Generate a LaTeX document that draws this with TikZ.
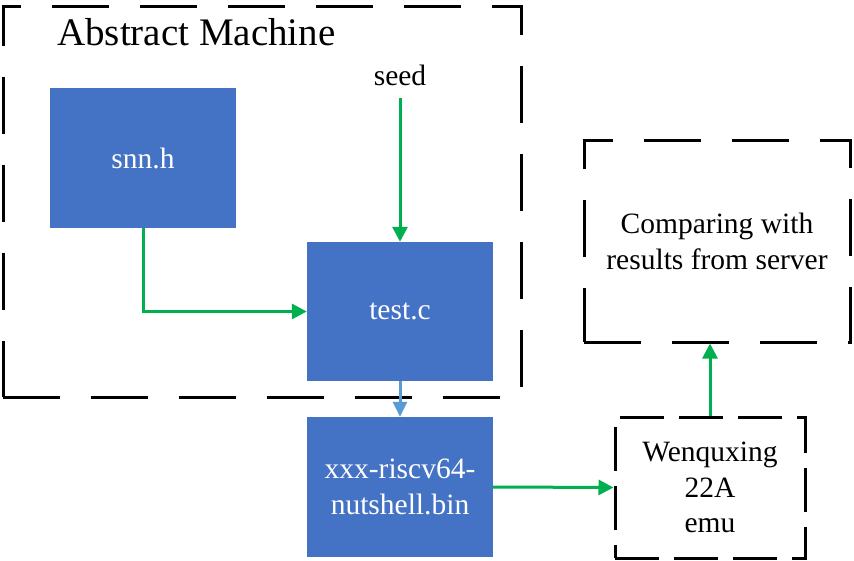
\documentclass[tikz,border=0pt]{standalone}
\usepackage{fontspec}
\setmainfont{Liberation Serif}
\newfontfamily\timesfont{Liberation Serif}
\usetikzlibrary{arrows.meta}
\definecolor{boxblue}{HTML}{4472C4}
\definecolor{flowgreen}{HTML}{00B050}
\definecolor{lightblue}{HTML}{5B9BD5}
\newcommand{\boxfont}{\timesfont\fontsize{29.5}{35.5}\selectfont}

\begin{document}
\begin{tikzpicture}[x=1pt, y=-1pt,
		file/.style={fill=boxblue, text=white, minimum width=186pt, minimum height=140pt, align=center, font=\boxfont},
		frame/.style={draw, line width=3pt, dash pattern=on 57pt off 31pt, minimum width=#1},
		frame/.default=266pt,
		flow/.style={draw=flowgreen, line width=3pt, -{Triangle[length=15pt, width=15pt]}},
		txt/.style={align=center, font=\boxfont}]
	\useasboundingbox (0, 0) rectangle (854, 561);

	\draw (262, 202) 	node[frame=518pt, minimum height=390pt] 	(am) 		{};
	\draw (57, 46) 		node[anchor=base west, inner sep=0pt, font=\timesfont\fontsize{39}{45}\selectfont] 	(am_title) 	{Abstract Machine};
	\draw (143, 158) 	node[file] 	(snn) 		{snn.h};
	\draw (400, 311.5) 	node[file, minimum height=139pt] 	(test) 		{test.c};
	\draw (400, 86) 	node[txt, anchor=base, inner sep=6pt] 	(seed) 		{seed};
	\draw (400, 487) 	node[file] 	(bin) 		{xxx-riscv64-\\nutshell.bin};
	\draw (710, 487.5) 	node[txt, draw, line width=3pt, dash pattern=on 44pt off 15pt, minimum width=190pt, minimum height=141pt] 	(emu) 	{Wenquxing\\22A\\emu};
	\draw (717, 241.5) 	node[txt, frame, minimum height=201pt] 	(comp) 	{Comparing with\\results from server};

	\draw[flow] (snn.south) |- (test.west);
	\draw[flow, shorten <=6pt] (seed.south) -- (test.north);
	\draw[draw=lightblue, line width=3pt, -{Triangle[length=15pt, width=14pt]}] (test.south) -- (bin.north);
	\draw[flow] (bin.east) -- (emu.west);
	\draw[flow] (emu.north) -- (emu.north |- comp.south);
\end{tikzpicture}
\end{document}
